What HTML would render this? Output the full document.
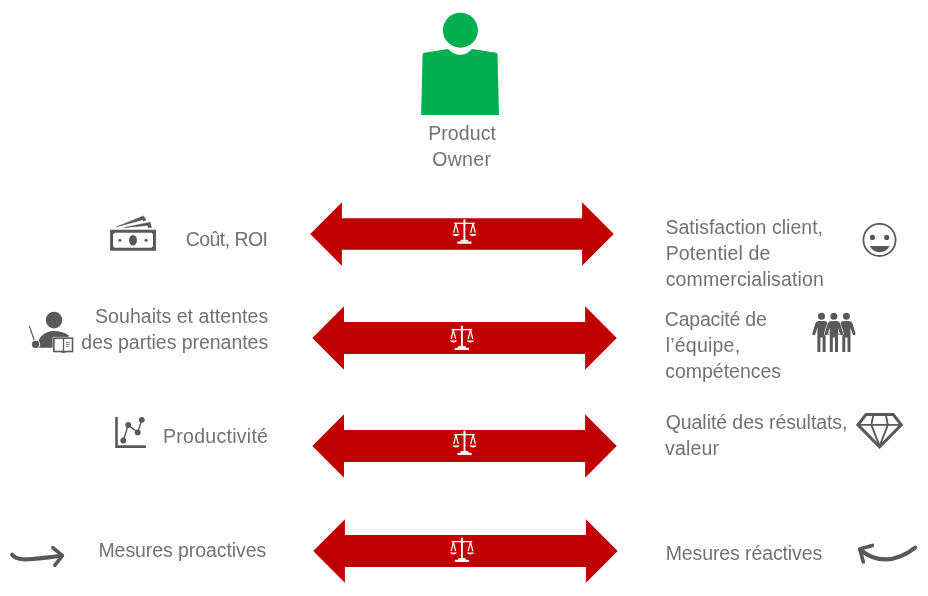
<!DOCTYPE html>
<html lang="fr">
<head>
<meta charset="utf-8">
<title>Product Owner</title>
<style>
html,body{margin:0;padding:0;background:#fff;}
body{width:928px;height:596px;overflow:hidden;}
svg{display:block;will-change:transform;}
text{font-family:"Liberation Sans",sans-serif;font-size:19.5px;fill:#727272;}
</style>
</head>
<body>
<svg width="928" height="596" viewBox="0 0 928 596">
<rect width="928" height="596" fill="#fff"/>
<g fill="#00B050">
<circle cx="460.4" cy="30.2" r="17.5"/>
<path d="M421.1,114.9 L422.6,54.6 Q422.7,53.1 424.3,52.8 L447.9,48.9 Q454,54.8 460.3,54.8 Q466.4,54.8 472.1,48.9 L496,52.8 Q497.4,53.1 497.5,54.6 L499,114.9 Z"/>
</g>
<path d="M310.2,234.0 L341.9,202.3 L341.9,218.2 L582.1,218.2 L582.1,202.3 L613.8,234.0 L582.1,265.7 L582.1,249.8 L341.9,249.8 L341.9,265.7Z" fill="#C00000"/>
<path d="M312.3,338.0 L344.0,306.3 L344.0,322.1 L585.1,322.1 L585.1,306.3 L616.8,338.0 L585.1,369.7 L585.1,353.9 L344.0,353.9 L344.0,369.7Z" fill="#C00000"/>
<path d="M312.3,446.0 L344.0,414.3 L344.0,430.1 L585.1,430.1 L585.1,414.3 L616.8,446.0 L585.1,477.7 L585.1,461.9 L344.0,461.9 L344.0,477.7Z" fill="#C00000"/>
<path d="M313.2,551.0 L344.9,519.3 L344.9,535.1 L586.0,535.1 L586.0,519.3 L617.7,551.0 L586.0,582.7 L586.0,566.9 L344.9,566.9 L344.9,582.7Z" fill="#C00000"/>
<g transform="translate(464.4,219.4)" fill="none" stroke="#fff" stroke-linecap="butt" stroke-linejoin="round">
  <path d="M0,0.8 V22.2" stroke-width="1.9" stroke-linecap="round"/>
  <circle cx="0" cy="3.9" r="1.5" fill="#fff" stroke="none"/>
  <circle cx="0" cy="3.9" r="0.45" fill="#C00000" stroke="none"/>
  <path d="M-10.3,3.9 H10.3" stroke-width="1.3"/>
  <path d="M-3.3,20.3 H3.3 L4.3,22.2 H-4.3Z" fill="#fff" stroke="none"/>
  <path d="M-7.1,23.2 H7.1" stroke-width="2.2"/>
  <path d="M-10.7,13.4 L-8.6,4.2 L-6.2,13.4" stroke-width="1.25"/>
  <path d="M6.2,13.4 L8.6,4.2 L10.9,13.4" stroke-width="1.25"/>
  <path d="M-12.1,14.7 H-4.7 Q-5.6,16.8 -8.4,16.8 Q-11.2,16.8 -12.1,14.7Z" fill="#fff" stroke="none"/>
  <path d="M4.8,14.7 H12.2 Q11.3,16.8 8.5,16.8 Q5.7,16.8 4.8,14.7Z" fill="#fff" stroke="none"/>
</g>
<g transform="translate(461.9,325.7)" fill="none" stroke="#fff" stroke-linecap="butt" stroke-linejoin="round">
  <path d="M0,0.8 V22.2" stroke-width="1.9" stroke-linecap="round"/>
  <circle cx="0" cy="3.9" r="1.5" fill="#fff" stroke="none"/>
  <circle cx="0" cy="3.9" r="0.45" fill="#C00000" stroke="none"/>
  <path d="M-10.3,3.9 H10.3" stroke-width="1.3"/>
  <path d="M-3.3,20.3 H3.3 L4.3,22.2 H-4.3Z" fill="#fff" stroke="none"/>
  <path d="M-7.1,23.2 H7.1" stroke-width="2.2"/>
  <path d="M-10.7,13.4 L-8.6,4.2 L-6.2,13.4" stroke-width="1.25"/>
  <path d="M6.2,13.4 L8.6,4.2 L10.9,13.4" stroke-width="1.25"/>
  <path d="M-12.1,14.7 H-4.7 Q-5.6,16.8 -8.4,16.8 Q-11.2,16.8 -12.1,14.7Z" fill="#fff" stroke="none"/>
  <path d="M4.8,14.7 H12.2 Q11.3,16.8 8.5,16.8 Q5.7,16.8 4.8,14.7Z" fill="#fff" stroke="none"/>
</g>
<g transform="translate(464.5,430.7)" fill="none" stroke="#fff" stroke-linecap="butt" stroke-linejoin="round">
  <path d="M0,0.8 V22.2" stroke-width="1.9" stroke-linecap="round"/>
  <circle cx="0" cy="3.9" r="1.5" fill="#fff" stroke="none"/>
  <circle cx="0" cy="3.9" r="0.45" fill="#C00000" stroke="none"/>
  <path d="M-10.3,3.9 H10.3" stroke-width="1.3"/>
  <path d="M-3.3,20.3 H3.3 L4.3,22.2 H-4.3Z" fill="#fff" stroke="none"/>
  <path d="M-7.1,23.2 H7.1" stroke-width="2.2"/>
  <path d="M-10.7,13.4 L-8.6,4.2 L-6.2,13.4" stroke-width="1.25"/>
  <path d="M6.2,13.4 L8.6,4.2 L10.9,13.4" stroke-width="1.25"/>
  <path d="M-12.1,14.7 H-4.7 Q-5.6,16.8 -8.4,16.8 Q-11.2,16.8 -12.1,14.7Z" fill="#fff" stroke="none"/>
  <path d="M4.8,14.7 H12.2 Q11.3,16.8 8.5,16.8 Q5.7,16.8 4.8,14.7Z" fill="#fff" stroke="none"/>
</g>
<g transform="translate(461.9,537.7)" fill="none" stroke="#fff" stroke-linecap="butt" stroke-linejoin="round">
  <path d="M0,0.8 V22.2" stroke-width="1.9" stroke-linecap="round"/>
  <circle cx="0" cy="3.9" r="1.5" fill="#fff" stroke="none"/>
  <circle cx="0" cy="3.9" r="0.45" fill="#C00000" stroke="none"/>
  <path d="M-10.3,3.9 H10.3" stroke-width="1.3"/>
  <path d="M-3.3,20.3 H3.3 L4.3,22.2 H-4.3Z" fill="#fff" stroke="none"/>
  <path d="M-7.1,23.2 H7.1" stroke-width="2.2"/>
  <path d="M-10.7,13.4 L-8.6,4.2 L-6.2,13.4" stroke-width="1.25"/>
  <path d="M6.2,13.4 L8.6,4.2 L10.9,13.4" stroke-width="1.25"/>
  <path d="M-12.1,14.7 H-4.7 Q-5.6,16.8 -8.4,16.8 Q-11.2,16.8 -12.1,14.7Z" fill="#fff" stroke="none"/>
  <path d="M4.8,14.7 H12.2 Q11.3,16.8 8.5,16.8 Q5.7,16.8 4.8,14.7Z" fill="#fff" stroke="none"/>
</g>
<g fill="#595959">
<path fill-rule="evenodd" d="M110.1,229.7 H155.9 V250.8 H110.1 Z M114.6,232.7 L113.1,234.2 V246.3 L114.6,247.8 H151.5 L153,246.3 V234.2 L151.5,232.7 Z"/>
<ellipse cx="133" cy="240.2" rx="4" ry="5.2"/>
<circle cx="119.9" cy="240.3" r="1.5"/>
<circle cx="146" cy="240.3" r="1.5"/>
<path d="M116.3,226.9 L143.4,215.9 L146.1,220 L143.4,221.3 L142.9,219.7 Z" stroke="#595959" stroke-width="0.5" stroke-linejoin="round"/>
<path d="M124.3,227.6 L150.1,222.2 L151.5,227.6 L148.1,227.6 L147.8,225.4 Z" stroke="#595959" stroke-width="0.5" stroke-linejoin="round"/>
</g>
<g>
<circle cx="54" cy="320.1" r="8.3" fill="#595959"/>
<path d="M37.1,347.8 C37.1,338.4 44,331.1 54,331.1 C60,331.1 65,332.8 68.8,335.6 V347.8 Z" fill="#595959"/>
<path d="M29.5,326.4 L35.6,344.3" stroke="#595959" stroke-width="1.2" fill="none" stroke-linecap="round"/>
<circle cx="35.6" cy="344.4" r="4.1" fill="#595959" stroke="#fff" stroke-width="1"/>
<rect x="52.6" y="336.9" width="21.2" height="15.9" fill="#fff"/>
<rect x="53.9" y="338.2" width="18.6" height="13.3" fill="#fff" stroke="#595959" stroke-width="1.6"/>
<path d="M63.5,338 V352.6" stroke="#595959" stroke-width="1.3"/>
<path d="M61.5,352.3 H65.5" stroke="#595959" stroke-width="1"/>
<path d="M65.8,342.3 H69.8 M65.8,344.3 H69.8 M65.8,346.3 H68.8" stroke="#595959" stroke-width="0.8"/>
</g>
<g fill="#595959" stroke="#595959">
<path d="M115.2,417 H117.8 V445.3 H145.9 V447.9 H115.2 Z" stroke="none"/>
<path d="M123.3,440.5 L128.2,425 L137.7,432.4 L141.8,419.8" fill="none" stroke-width="1.4"/>
<circle cx="123.3" cy="440.5" r="2.9" stroke="none"/>
<circle cx="128.2" cy="425" r="2.9" stroke="none"/>
<circle cx="137.7" cy="432.4" r="2.9" stroke="none"/>
<circle cx="141.8" cy="419.8" r="2.9" stroke="none"/>
</g>
<g fill="none" stroke="#595959" stroke-width="3.6" stroke-linecap="round" stroke-linejoin="round">
<path d="M12.2,554.6 C16,559.9 24,559.6 33,559 C44,558.2 52,556.7 61.5,556" stroke-width="4.2"/>
<path d="M52.8,547.6 L62.4,555.7 L54.8,565.4"/>
</g>
<g fill="none" stroke="#595959" stroke-width="3.6" stroke-linecap="round" stroke-linejoin="round">
<path d="M915.2,547.6 C905,555.5 895,559.3 886,559.3 C876,559.3 867,555.5 860.5,549.8" stroke-width="4.2"/>
<path d="M872.4,545.4 L859.8,549 L863.3,562"/>
</g>
<g>
<circle cx="879.5" cy="239.9" r="16.1" fill="#fff" stroke="#595959" stroke-width="1.8"/>
<circle cx="872.4" cy="237.4" r="2.6" fill="#595959"/>
<circle cx="886.7" cy="237.4" r="2.6" fill="#595959"/>
<path d="M869.8,246.1 H889.6 Q886.4,252.3 879.7,252.3 Q873,252.3 869.8,246.1Z" fill="#595959"/>
</g>
<g><circle cx="821.5" cy="316.3" r="3.5" fill="#595959"/><path d="M818.9,321.1 H824.1 Q827.1,321.3 827.9,324.3 L830.6,333.2 Q830.8,335 829.4,335.2 Q828.1,335.4 827.6,334 L825.6,327.5 V351.9 H822.6 V337.6 H820.4 V351.9 H817.4 V327.5 L815.4,334 Q814.9,335.4 813.6,335.2 Q812.2,335 812.4,333.2 L815.1,324.3 Q815.9,321.3 818.9,321.1Z" fill="#595959"/><circle cx="846.4" cy="316.3" r="3.5" fill="#595959"/><path d="M843.8,321.1 H849.0 Q852.0,321.3 852.8,324.3 L855.5,333.2 Q855.6999999999999,335 854.3,335.2 Q853.0,335.4 852.5,334 L850.5,327.5 V351.9 H847.5 V337.6 H845.3 V351.9 H842.3 V327.5 L840.3,334 Q839.8,335.4 838.5,335.2 Q837.1,335 837.3,333.2 L840.0,324.3 Q840.8,321.3 843.8,321.1Z" fill="#595959"/><circle cx="833.9" cy="316.3" r="3.5" fill="#595959" stroke="#fff" stroke-width="1.2" paint-order="stroke"/><path d="M831.3,321.1 H836.5 Q839.5,321.3 840.3,324.3 L843.0,333.2 Q843.1999999999999,335 841.8,335.2 Q840.5,335.4 840.0,334 L838.0,327.5 V351.9 H835.0 V337.6 H832.8 V351.9 H829.8 V327.5 L827.8,334 Q827.3,335.4 826.0,335.2 Q824.6,335 824.8,333.2 L827.5,324.3 Q828.3,321.3 831.3,321.1Z" fill="#595959" stroke="#fff" stroke-width="1.2" paint-order="stroke"/></g>
<g fill="none" stroke="#595959" stroke-linejoin="miter">
<path d="M866,414.5 H893.2 L901.3,424.8 L879.6,446.9 L857.9,424.8 Z" stroke-width="3"/>
<path d="M857,424.9 H902" stroke-width="1.9"/>
<path d="M873.6,414 L871.3,424.8 L879.6,446 L887.9,424.8 L885.6,414" stroke-width="1.9"/>
</g>
<text id="t0" x="428.16" y="139.80" textLength="67.74" lengthAdjust="spacing">Product</text>
<text id="t1" x="432.30" y="165.60" textLength="58.60" lengthAdjust="spacing">Owner</text>
<text id="t2" x="185.70" y="245.70" textLength="82.28" lengthAdjust="spacing">Coût, ROI</text>
<text id="t3" x="95.06" y="323.00" textLength="173.12" lengthAdjust="spacing">Souhaits et attentes</text>
<text id="t4" x="81.34" y="348.90" textLength="186.84" lengthAdjust="spacing">des parties prenantes</text>
<text id="t5" x="163.02" y="443.00" textLength="104.92" lengthAdjust="spacing">Productivité</text>
<text id="t6" x="98.44" y="556.60" textLength="167.84" lengthAdjust="spacing">Mesures proactives</text>
<text id="t7" x="665.46" y="234.10" textLength="157.52" lengthAdjust="spacing">Satisfaction client,</text>
<text id="t8" x="665.68" y="259.50" textLength="104.64" lengthAdjust="spacing">Potentiel de</text>
<text id="t9" x="665.72" y="285.60" textLength="158.08" lengthAdjust="spacing">commercialisation</text>
<text id="t10" x="664.82" y="325.90" textLength="101.98" lengthAdjust="spacing">Capacité de</text>
<text id="t11" x="665.68" y="351.70" textLength="74.40" lengthAdjust="spacing">l’équipe,</text>
<text id="t12" x="665.20" y="377.80" textLength="115.84" lengthAdjust="spacing">compétences</text>
<text id="t13" x="665.70" y="428.70" textLength="181.76" lengthAdjust="spacing">Qualité des résultats,</text>
<text id="t14" x="665.10" y="454.70" textLength="53.80" lengthAdjust="spacing">valeur</text>
<text id="t15" x="665.74" y="560.10" textLength="156.44" lengthAdjust="spacing">Mesures réactives</text>
</svg>
</body>
</html>
